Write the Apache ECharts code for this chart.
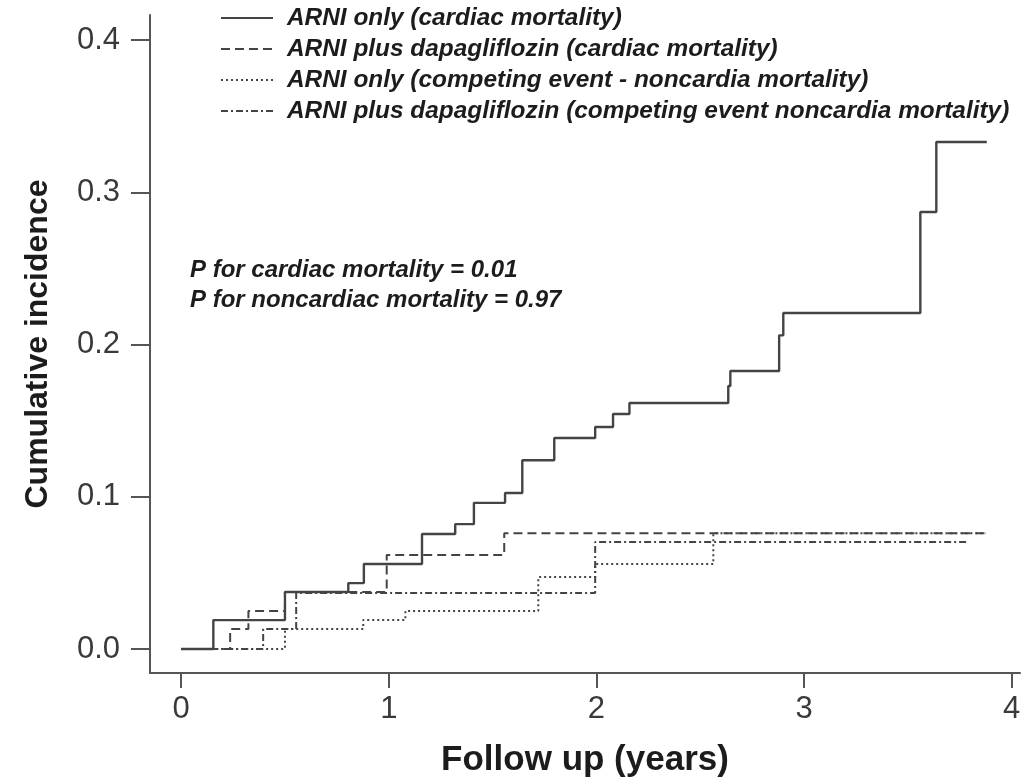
<!DOCTYPE html>
<html>
<head>
<meta charset="utf-8">
<script src="https://cdn.jsdelivr.net/npm/echarts@6/dist/echarts.min.js"></script>
<style>
  html, body { margin: 0; padding: 0; background: #ffffff; }
  #chart { width: 1025px; height: 779px; }
</style>
</head>
<body>
<div id="chart"></div>
<script>
// Cumulative incidence step curves (time in years, incidence as a fraction)
const seriesNames = [
  'ARNI only (cardiac mortality)',
  'ARNI plus dapagliflozin (cardiac mortality)',
  'ARNI only (competing event - noncardia mortality)',
  'ARNI plus dapagliflozin (competing event noncardia mortality)'
];

const arniCardiacTimes = [0, 0.155, 0.50, 0.805, 0.88, 1.16, 1.32, 1.41, 1.56, 1.643, 1.797, 1.994, 2.08, 2.159, 2.635, 2.645, 2.88, 2.90, 3.56, 3.637, 3.88];
const arniCardiacVals  = [0, 0.019, 0.0374, 0.0433, 0.0558, 0.0755, 0.082, 0.096, 0.1025, 0.124, 0.1386, 0.1458, 0.1544, 0.1616, 0.1727, 0.1826, 0.206, 0.2207, 0.287, 0.333, 0.333];

const dapaCardiacTimes = [0, 0.236, 0.324, 0.50, 0.99, 1.556, 3.875];
const dapaCardiacVals  = [0, 0.0131, 0.025, 0.0374, 0.0617, 0.076, 0.076];

const arniNoncardiacTimes = [0, 0.50, 0.877, 1.08, 1.72, 1.994, 2.563, 3.875];
const arniNoncardiacVals  = [0, 0.0131, 0.019, 0.025, 0.0473, 0.0558, 0.076, 0.076];

const dapaNoncardiacTimes = [0, 0.395, 0.554, 1.994, 3.79];
const dapaNoncardiacVals  = [0, 0.0131, 0.0368, 0.0703, 0.0703];

const xTicks = [0, 1, 2, 3, 4];
const yTicks = [0, 0.1, 0.2, 0.3, 0.4];

const pValueLines = [
  'P for cardiac mortality = 0.01',
  'P for noncardiac mortality = 0.97'
];

const FONT = "'Liberation Sans', Arial, Helvetica, sans-serif";
const LINE = '#444444';
const AXIS = '#555555';

function stepSeries(name, times, vals, dash, width) {
  return {
    name: name,
    type: 'line',
    step: 'end',
    symbol: 'none',
    silent: true,
    data: times.map((t, i) => [t, vals[i]]),
    lineStyle: { color: LINE, width: width, type: dash, cap: 'butt' },
    itemStyle: { color: LINE }
  };
}

const chart = echarts.init(document.getElementById('chart'), null, { renderer: 'canvas' });

chart.setOption({
  animation: false,
  backgroundColor: '#ffffff',
  grid: { left: 150, right: 5, top: 15, bottom: 106, containLabel: false, outerBoundsMode: 'none' },
  legend: {
    orient: 'vertical',
    left: 215,
    top: 1,
    itemWidth: 52,
    itemHeight: 24,
    itemGap: 7,
    selectedMode: false,
    data: seriesNames,
    itemStyle: { opacity: 0, borderWidth: 0 },
    textStyle: {
      fontFamily: FONT,
      fontSize: 24.4,
      fontStyle: 'italic',
      fontWeight: 'bold',
      color: '#1c1c1c',
      lineHeight: 24,
      padding: [0, 0, 0, 9]
    }
  },
  xAxis: {
    type: 'value',
    min: -0.15,
    max: 4.04,
    splitLine: { show: false },
    axisLine: { show: true, onZero: false, lineStyle: { color: AXIS, width: 2 } },
    axisTick: { show: true, customValues: xTicks, length: 15, lineStyle: { color: AXIS, width: 2 } },
    axisLabel: {
      customValues: xTicks,
      fontFamily: FONT,
      fontSize: 31,
      color: '#3a3a3a',
      margin: 21,
      formatter: v => String(v)
    },
    name: 'Follow up (years)',
    nameLocation: 'middle',
    nameGap: 70,
    nameTextStyle: { fontFamily: FONT, fontSize: 35, fontWeight: 'bold', color: '#1c1c1c' }
  },
  yAxis: {
    type: 'value',
    min: -0.01576,
    max: 0.41642,
    splitLine: { show: false },
    axisLine: { show: true, onZero: false, lineStyle: { color: AXIS, width: 2 } },
    axisTick: { show: true, customValues: yTicks, length: 19, lineStyle: { color: AXIS, width: 2 } },
    axisLabel: {
      customValues: yTicks,
      fontFamily: FONT,
      fontSize: 31,
      color: '#3a3a3a',
      margin: 30,
      formatter: v => v.toFixed(1)
    },
    name: 'Cumulative incidence',
    nameLocation: 'middle',
    nameGap: 96,
    nameTextStyle: { fontFamily: FONT, fontSize: 32, fontWeight: 'bold', color: '#1c1c1c' }
  },
  graphic: pValueLines.map((txt, i) => ({
    type: 'text',
    left: 190,
    top: 258 + i * 30,
    silent: true,
    style: {
      text: txt,
      font: 'italic bold 24px ' + FONT,
      fill: '#1c1c1c'
    }
  })),
  series: [
    stepSeries(seriesNames[0], arniCardiacTimes, arniCardiacVals, 'solid', 2.4),
    stepSeries(seriesNames[1], dapaCardiacTimes, dapaCardiacVals, [9, 5], 2),
    stepSeries(seriesNames[2], arniNoncardiacTimes, arniNoncardiacVals, [2, 3], 2),
    stepSeries(seriesNames[3], dapaNoncardiacTimes, dapaNoncardiacVals, [7, 3, 2, 3], 2)
  ]
});
</script>
</body>
</html>
